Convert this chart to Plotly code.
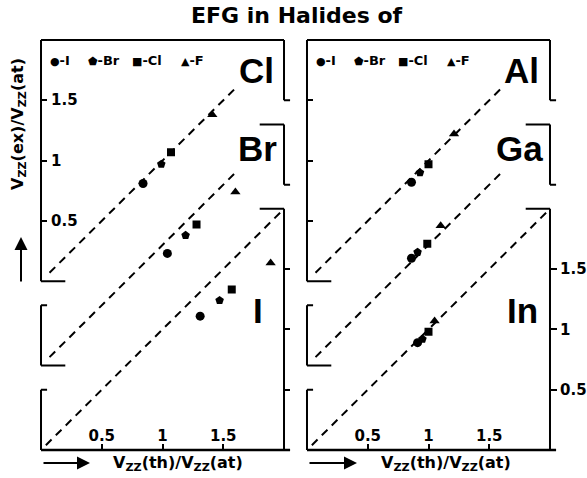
import plotly.graph_objects as go

W, H = 587, 478

# ---------------- data ----------------
halides = ["I", "Br", "Cl", "F"]
marker_symbols = ["circle", "pentagon", "square", "triangle-up"]
marker_sizes = [9, 9, 8, 9]
legend_glyphs = ["\u25CF", "\u2B1F", "\u25A0", "\u25B2"]

left_panels = ["Cl", "Br", "I"]
right_panels = ["Al", "Ga", "In"]
panel_offsets = [1.4, 0.7, 0.0]   # vertical stacking of the three sub-panels

# values in order I, Br, Cl, F
cl_th = [0.84, 0.99, 1.07, 1.41]
cl_ex = [0.81, 0.97, 1.07, 1.38]
br_th = [1.04, 1.19, 1.28, 1.60]
br_ex = [0.93, 1.08, 1.17, 1.44]
i_th = [1.31, 1.47, 1.57, 1.89]
i_ex = [1.11, 1.24, 1.33, 1.55]

al_th = [0.86, 0.93, 1.00, 1.21]
al_ex = [0.82, 0.90, 0.97, 1.22]
ga_th = [0.86, 0.91, 0.99, 1.10]
ga_ex = [0.89, 0.94, 1.01, 1.16]
in_th = [0.91, 0.95, 1.00, 1.05]
in_ex = [0.89, 0.92, 0.98, 1.07]

diag_start = [0.07, 0.07, 0.04]
diag_end = [1.60, 1.60, 1.98]

tick_vals = [0.5, 1, 1.5]
tick_text = ["0.5", "1", "1.5"]

left_th = [cl_th, br_th, i_th]
left_ex = [cl_ex, br_ex, i_ex]
right_th = [al_th, ga_th, in_th]
right_ex = [al_ex, ga_ex, in_ex]

# ---------------- layout geometry (pixels) ----------------
X_SPAN, Y_SPAN = 2.0, 3.4
FRAME_L = [41, 307]
FRAME_W = 243
FRAME_TOP, FRAME_BOT = 40, 450
SX = FRAME_W / X_SPAN
SY = (FRAME_BOT - FRAME_TOP) / Y_SPAN
PAD = 0.07


def px(x):
    return x / W


def py(y):
    return 1 - y / H


fig = go.Figure()
BLACK = "black"

sides = [
    dict(xa="x", ya="y", ya_r="y3", th=left_th, ex=left_ex, names=left_panels),
    dict(xa="x2", ya="y2", ya_r="y4", th=right_th, ex=right_ex, names=right_panels),
]

shapes = []
for s in sides:
    for k, off in enumerate(panel_offsets):
        fig.add_trace(go.Scatter(
            x=[diag_start[k], diag_end[k]],
            y=[diag_start[k] + off, diag_end[k] + off],
            mode="lines", line=dict(color=BLACK, width=2, dash="8px,6px"),
            xaxis=s["xa"], yaxis=(s["ya_r"] if k == 2 else s["ya"]),
            showlegend=False, hoverinfo="skip"))
    for j, hal in enumerate(halides):
        fig.add_trace(go.Scatter(
            x=[s["th"][k][j] for k in range(3)],
            y=[s["ex"][k][j] + panel_offsets[k] for k in range(3)],
            mode="markers", name=hal,
            marker=dict(symbol=marker_symbols[j], size=marker_sizes[j], color=BLACK,
                        line=dict(width=0)),
            xaxis=s["xa"], yaxis=s["ya"], showlegend=False))

    xr, yr = s["xa"], s["ya"]

    def seg(x0, y0, x1, y1, w=2):
        shapes.append(dict(type="line", xref=xr, yref=yr, x0=x0, y0=y0, x1=x1, y1=y1,
                           line=dict(color=BLACK, width=w)))

    oT, oM, oB = panel_offsets
    # top panel frame
    seg(0, oT + 2, 2, oT + 2)
    seg(0, oT, 0, oT + 2)
    seg(0, oT, 0.2, oT)
    seg(2, oT + 2, 2, oT + 1.5)
    seg(2, oT + 1.5, 2.05, oT + 1.5)
    # middle panel frame
    seg(1.8, oM + 2, 2, oM + 2)
    seg(2, oM + 2, 2, oM + 1.5)
    seg(2, oM + 1.5, 2.05, oM + 1.5)
    seg(0, oM, 0, oM + 0.5)
    seg(0, oM + 0.5, 0.05, oM + 0.5)
    seg(0, oM, 0.2, oM)
    # bottom panel frame
    seg(1.8, oB + 2, 2, oB + 2)
    seg(2, oB, 2, oB + 2)
    seg(0, oB, 0, oB + 0.5)
    seg(0, oB + 0.5, 0.05, oB + 0.5)
    seg(0, oB, 2.05, oB, w=2.5)

tickfont = dict(family="DejaVu Sans", size=15, color=BLACK, weight="bold")
ydom = [py(FRAME_BOT + PAD * SY), py(FRAME_TOP - PAD * SY)]


def xdom(left):
    return [px(left - PAD * SX), px(left + FRAME_W + PAD * SX)]


common_x = dict(range=[-PAD, X_SPAN + PAD], showgrid=False, zeroline=False, showline=False,
                ticks="inside", ticklen=6, tickwidth=2, tickcolor=BLACK,
                tickvals=tick_vals, ticktext=tick_text, ticklabelposition="inside",
                tickfont=tickfont, fixedrange=True, anchor="free", position=py(FRAME_BOT))
common_y = dict(range=[-PAD, Y_SPAN + PAD], domain=ydom, showgrid=False, zeroline=False,
                showline=False, tickwidth=2, tickcolor=BLACK, tickfont=tickfont,
                fixedrange=True, anchor="free")

top_tick_vals = [v + panel_offsets[0] for v in tick_vals]

fig.update_layout(
    width=W, height=H, margin=dict(l=0, r=0, t=0, b=0),
    paper_bgcolor="white", plot_bgcolor="white", showlegend=False,
    xaxis=dict(domain=xdom(FRAME_L[0]), **common_x),
    xaxis2=dict(domain=xdom(FRAME_L[1]), **common_x),
    yaxis=dict(position=px(FRAME_L[0]), ticks="inside", ticklen=5, tickvals=top_tick_vals,
               showticklabels=False, **common_y),
    yaxis2=dict(position=px(FRAME_L[1]), ticks="inside", ticklen=5, tickvals=top_tick_vals,
                showticklabels=False, **common_y),
    yaxis3=dict(overlaying="y", side="right", position=px(FRAME_L[0] + FRAME_W),
                ticks="outside", ticklen=5, tickvals=tick_vals, showticklabels=False,
                **common_y),
    yaxis4=dict(overlaying="y2", side="right", position=px(FRAME_L[1] + FRAME_W),
                ticks="outside", ticklen=6, tickvals=tick_vals, ticktext=tick_text,
                showticklabels=True, **common_y),
    shapes=shapes,
)

ann = []
# left-axis tick labels of the top-left panel (drawn inside the frame)
for v, t in zip(top_tick_vals, tick_text):
    ann.append(dict(text=t, x=px(FRAME_L[0] + 8), y=v, xref="paper", yref="y",
                    xanchor="left", yanchor="middle", showarrow=False, font=tickfont))
# title
ann.append(dict(text="<b>EFG in Halides of</b>", x=px(297), y=py(15), xref="paper", yref="paper",
                xanchor="center", yanchor="middle", showarrow=False,
                font=dict(family="DejaVu Sans", size=22, color=BLACK)))
# panel labels
label_font = dict(family="Liberation Sans", size=35, color=BLACK, weight="bold")
label_pos = {"Cl": (256, 71), "Br": (257, 148), "I": (258, 310),
             "Al": (521, 71), "Ga": (519, 148), "In": (522, 310)}
for name, (lx, ly) in label_pos.items():
    ann.append(dict(text=name, x=px(lx), y=py(ly), xref="paper", yref="paper",
                    xanchor="center", yanchor="middle", showarrow=False, font=label_font))
# legends
legend_px = [7, 45, 89, 138]
for left in FRAME_L:
    for j, hal in enumerate(halides):
        ann.append(dict(text=f"<span style='font-size:11px'>{legend_glyphs[j]}</span>-{hal}",
                        x=px(left + legend_px[j]), y=py(60), xref="paper", yref="paper",
                        xanchor="left", yanchor="middle", showarrow=False,
                        font=dict(family="DejaVu Sans", size=13, color=BLACK, weight="bold")))
# axis titles
ttl_font = dict(family="DejaVu Sans", size=16, color=BLACK, weight="bold")
ann.append(dict(text="V<sub>ZZ</sub>(th)/V<sub>ZZ</sub>(at)", x=px(178), y=py(463),
                xref="paper", yref="paper", xanchor="center", yanchor="middle",
                showarrow=False, font=ttl_font))
ann.append(dict(text="V<sub>ZZ</sub>(th)/V<sub>ZZ</sub>(at)", x=px(446), y=py(463),
                xref="paper", yref="paper", xanchor="center", yanchor="middle",
                showarrow=False, font=ttl_font))
ann.append(dict(text="V<sub>ZZ</sub>(ex)/V<sub>ZZ</sub>(at)", x=px(18), y=py(124),
                xref="paper", yref="paper", xanchor="center", yanchor="middle",
                showarrow=False, textangle=-90, font=ttl_font))
# arrows
for hx, hy, axo, ayo in [(21, 237, 0, 46), (90, 463, -48, 0), (357, 463, -49, 0)]:
    ann.append(dict(text="", x=px(hx), y=py(hy), xref="paper", yref="paper",
                    showarrow=True, ax=axo, ay=ayo, arrowhead=2, arrowsize=1.3,
                    arrowwidth=2, arrowcolor=BLACK))

fig.update_layout(annotations=ann)
fig.write_html("out.html", config={"displayModeBar": False},
               post_script="document.body.style.margin='0';document.body.style.padding='0';")
